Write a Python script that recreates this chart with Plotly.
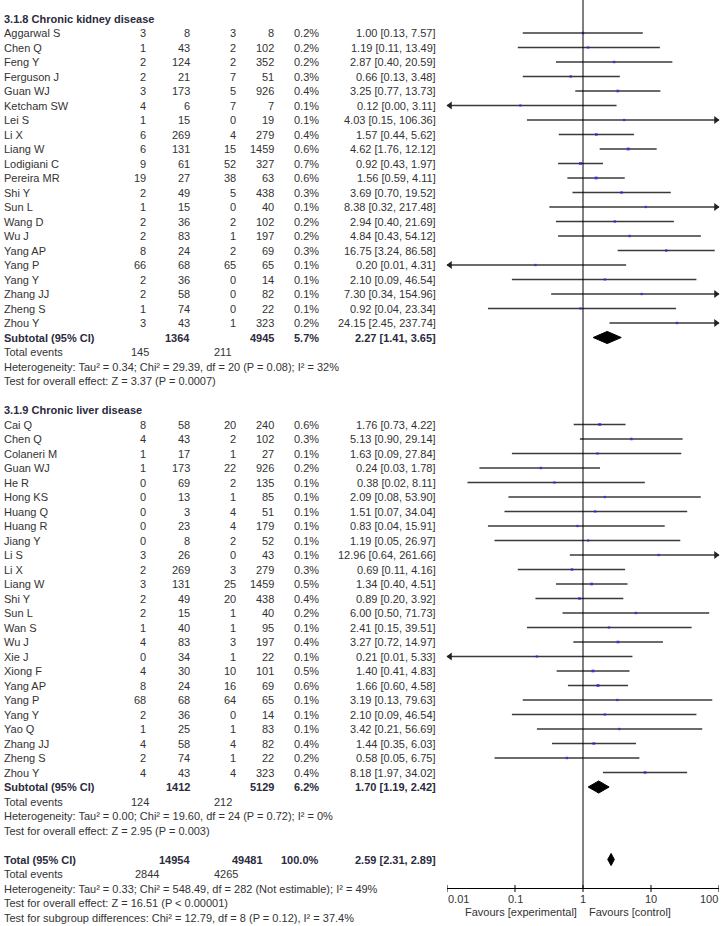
import math
import plotly.graph_objects as go

# ---------------- DATA ----------------
kid_title = "3.1.8 Chronic kidney disease"
kid_names = ["Aggarwal S", "Chen Q", "Feng Y", "Ferguson J", "Guan WJ", "Ketcham SW", "Lei S", "Li X",
             "Liang W", "Lodigiani C", "Pereira MR", "Shi Y", "Sun L", "Wang D", "Wu J", "Yang AP",
             "Yang P", "Yang Y", "Zhang JJ", "Zheng S", "Zhou Y"]
kid_exp_ev = [3, 1, 2, 2, 3, 4, 1, 6, 6, 9, 19, 2, 1, 2, 2, 8, 66, 2, 2, 1, 3]
kid_exp_n = [8, 43, 124, 21, 173, 6, 15, 269, 131, 61, 27, 49, 15, 36, 83, 24, 68, 36, 58, 74, 43]
kid_ctl_ev = [3, 2, 2, 7, 5, 7, 0, 4, 15, 52, 38, 5, 0, 2, 1, 2, 65, 0, 0, 0, 1]
kid_ctl_n = [8, 102, 352, 51, 926, 7, 19, 279, 1459, 327, 63, 438, 40, 102, 197, 69, 65, 14, 82, 22, 323]
kid_weight = [0.2, 0.2, 0.2, 0.3, 0.4, 0.1, 0.1, 0.4, 0.6, 0.7, 0.6, 0.3, 0.1, 0.2, 0.2, 0.3, 0.1, 0.1, 0.1, 0.1, 0.2]
kid_or = [1.00, 1.19, 2.87, 0.66, 3.25, 0.12, 4.03, 1.57, 4.62, 0.92, 1.56, 3.69, 8.38, 2.94, 4.84, 16.75,
          0.20, 2.10, 7.30, 0.92, 24.15]
kid_lo = [0.13, 0.11, 0.40, 0.13, 0.77, 0.00, 0.15, 0.44, 1.76, 0.43, 0.59, 0.70, 0.32, 0.40, 0.43, 3.24,
          0.01, 0.09, 0.34, 0.04, 2.45]
kid_hi = [7.57, 13.49, 20.59, 3.48, 13.73, 3.11, 106.36, 5.62, 12.12, 1.97, 4.11, 19.52, 217.48, 21.69,
          54.12, 86.58, 4.31, 46.54, 154.96, 23.34, 237.74]
kid_sub = {"exp_n": 1364, "ctl_n": 4945, "weight": "5.7%", "or": 2.27, "lo": 1.41, "hi": 3.65}
kid_events = ["145", "211"]
kid_het = "Heterogeneity: Tau² = 0.34; Chi² = 29.39, df = 20 (P = 0.08); I² = 32%"
kid_test = "Test for overall effect: Z = 3.37 (P = 0.0007)"

liv_title = "3.1.9 Chronic liver disease"
liv_names = ["Cai Q", "Chen Q", "Colaneri M", "Guan WJ", "He R", "Hong KS", "Huang Q", "Huang R", "Jiang Y",
             "Li S", "Li X", "Liang W", "Shi Y", "Sun L", "Wan S", "Wu J", "Xie J", "Xiong F", "Yang AP",
             "Yang P", "Yang Y", "Yao Q", "Zhang JJ", "Zheng S", "Zhou Y"]
liv_exp_ev = [8, 4, 1, 1, 0, 0, 0, 0, 0, 3, 2, 3, 2, 2, 1, 4, 0, 4, 8, 68, 2, 1, 4, 2, 4]
liv_exp_n = [58, 43, 17, 173, 69, 13, 3, 23, 8, 26, 269, 131, 49, 15, 40, 83, 34, 30, 24, 68, 36, 25, 58, 74, 43]
liv_ctl_ev = [20, 2, 1, 22, 2, 1, 4, 4, 2, 0, 3, 25, 20, 1, 1, 3, 1, 10, 16, 64, 0, 1, 4, 1, 4]
liv_ctl_n = [240, 102, 27, 926, 135, 85, 51, 179, 52, 43, 279, 1459, 438, 40, 95, 197, 22, 101, 69, 65, 14,
             83, 82, 22, 323]
liv_weight = [0.6, 0.3, 0.1, 0.2, 0.1, 0.1, 0.1, 0.1, 0.1, 0.1, 0.3, 0.5, 0.4, 0.2, 0.1, 0.4, 0.1, 0.5, 0.6,
              0.1, 0.1, 0.1, 0.4, 0.2, 0.4]
liv_or = [1.76, 5.13, 1.63, 0.24, 0.38, 2.09, 1.51, 0.83, 1.19, 12.96, 0.69, 1.34, 0.89, 6.00, 2.41, 3.27,
          0.21, 1.40, 1.66, 3.19, 2.10, 3.42, 1.44, 0.58, 8.18]
liv_lo = [0.73, 0.90, 0.09, 0.03, 0.02, 0.08, 0.07, 0.04, 0.05, 0.64, 0.11, 0.40, 0.20, 0.50, 0.15, 0.72,
          0.01, 0.41, 0.60, 0.13, 0.09, 0.21, 0.35, 0.05, 1.97]
liv_hi = [4.22, 29.14, 27.84, 1.78, 8.11, 53.90, 34.04, 15.91, 26.97, 261.66, 4.16, 4.51, 3.92, 71.73, 39.51,
          14.97, 5.33, 4.83, 4.58, 79.63, 46.54, 56.69, 6.03, 6.75, 34.02]
liv_sub = {"exp_n": 1412, "ctl_n": 5129, "weight": "6.2%", "or": 1.70, "lo": 1.19, "hi": 2.42}
liv_events = ["124", "212"]
liv_het = "Heterogeneity: Tau² = 0.00; Chi² = 19.60, df = 24 (P = 0.72); I² = 0%"
liv_test = "Test for overall effect: Z = 2.95 (P = 0.003)"

tot = {"exp_n": 14954, "ctl_n": 49481, "weight": "100.0%", "or": 2.59, "lo": 2.31, "hi": 2.89}
tot_events = ["2844", "4265"]
tot_het = "Heterogeneity: Tau² = 0.33; Chi² = 548.49, df = 282 (Not estimable); I² = 49%"
tot_test = "Test for overall effect: Z = 16.51 (P < 0.00001)"
tot_sub = "Test for subgroup differences: Chi² = 12.79, df = 8 (P = 0.12), I² = 37.4%"

tick_vals = [0.01, 0.1, 1, 10, 100]
tick_text = ["0.01", "0.1", "1", "10", "100"]
fav_left = "Favours [experimental]"
fav_right = "Favours [control]"

# ---------------- LAYOUT CONSTANTS ----------------
W, H = 721, 926
ROW0, ROWH = 18.5, 14.5
AXIS_PX = 888
XMIN, XMAX = 0.01, 100
PLOT_L, PLOT_R = 447, 719
FONT = "Liberation Sans, Arial, sans-serif"
FS = 11
TXT = "#333333"
BOLD = "#2b2b3d"
COLS = {"name": 3, "exp_ev": 147, "exp_n": 191, "ctl_ev": 237, "ctl_n": 275, "w": 320, "or": 437}

def py(p):
    return 1 - p / H

def px(p):
    return p / W

annotations = []

def txt(xpx, row, s, anchor="right", bold=False, color=None):
    annotations.append(dict(
        x=px(xpx), xref="paper", y=row, yref="y",
        text=("<b>%s</b>" % s) if bold else s,
        xanchor=anchor, yanchor="middle", showarrow=False, borderpad=0,
        font=dict(family=FONT, size=FS, color=color or (BOLD if bold else TXT))))

ci_x, ci_y = [], []
pt_x, pt_y, pt_s = [], [], []
arr_l_y, arr_r_y = [], []
diamonds = []

def fmt_or(o, l, h):
    return "%.2f [%.2f, %.2f]" % (o, l, h)

def add_group(start, title, names, eev, en, cev, cn, w, o, lo, hi, sub, events, het, test):
    r = start
    txt(COLS["name"], r, title, anchor="left", bold=True)
    r += 1
    for i in range(len(names)):
        txt(COLS["name"], r, names[i], anchor="left")
        txt(COLS["exp_ev"], r, str(eev[i]))
        txt(COLS["exp_n"], r, str(en[i]))
        txt(COLS["ctl_ev"], r, str(cev[i]))
        txt(COLS["ctl_n"], r, str(cn[i]))
        txt(COLS["w"], r, "%.1f%%" % w[i])
        txt(COLS["or"], r, fmt_or(o[i], lo[i], hi[i]))
        a = max(lo[i], XMIN)
        b = min(hi[i], XMAX)
        ci_x.extend([a, b, None])
        ci_y.extend([r, r, None])
        if lo[i] <= XMIN:
            arr_l_y.append(r)
        if hi[i] >= XMAX:
            arr_r_y.append(r)
        pt_x.append(o[i]); pt_y.append(r); pt_s.append(2.2 + 1.2 * w[i])
        r += 1
    txt(COLS["name"], r, "Subtotal (95% CI)", anchor="left", bold=True)
    txt(COLS["exp_n"], r, str(sub["exp_n"]), bold=True)
    txt(COLS["ctl_n"], r, str(sub["ctl_n"]), bold=True)
    txt(COLS["w"], r, sub["weight"], bold=True)
    txt(COLS["or"], r, fmt_or(sub["or"], sub["lo"], sub["hi"]), bold=True)
    diamonds.append((sub["or"], sub["lo"], sub["hi"], r))
    r += 1
    txt(COLS["name"], r, "Total events", anchor="left")
    txt(140, r, events[0], anchor="center")
    txt(223, r, events[1], anchor="center")
    r += 1
    txt(COLS["name"], r, het, anchor="left")
    r += 1
    txt(COLS["name"], r, test, anchor="left")
    return r + 2

r = add_group(0, kid_title, kid_names, kid_exp_ev, kid_exp_n, kid_ctl_ev, kid_ctl_n, kid_weight,
              kid_or, kid_lo, kid_hi, kid_sub, kid_events, kid_het, kid_test)
r = add_group(r, liv_title, liv_names, liv_exp_ev, liv_exp_n, liv_ctl_ev, liv_ctl_n, liv_weight,
              liv_or, liv_lo, liv_hi, liv_sub, liv_events, liv_het, liv_test)

# overall
txt(COLS["name"], r, "Total (95% CI)", anchor="left", bold=True)
txt(COLS["exp_n"], r, str(tot["exp_n"]), bold=True)
txt(264, r, str(tot["ctl_n"]), bold=True)
txt(COLS["w"], r, tot["weight"], bold=True)
txt(COLS["or"], r, fmt_or(tot["or"], tot["lo"], tot["hi"]), bold=True)
diamonds.append((tot["or"], tot["lo"], tot["hi"], r))
txt(COLS["name"], r + 1, "Total events", anchor="left")
txt(147, r + 1, tot_events[0], anchor="center")
txt(226, r + 1, tot_events[1], anchor="center")
txt(COLS["name"], r + 2, tot_het, anchor="left")
txt(COLS["name"], r + 3, tot_test, anchor="left")
txt(COLS["name"], r + 4, tot_sub, anchor="left")

fig = go.Figure()

fig.add_trace(go.Scatter(x=ci_x, y=ci_y, mode="lines", line=dict(color="#3a3a3a", width=1.4),
                         hoverinfo="skip", showlegend=False))
off = 3.0 / 68.0
fig.add_trace(go.Scatter(x=[10 ** (math.log10(XMIN) + off)] * len(arr_l_y), y=arr_l_y, mode="markers",
                         marker=dict(symbol="triangle-left", size=7, color="#222222"),
                         hoverinfo="skip", showlegend=False, cliponaxis=False))
fig.add_trace(go.Scatter(x=[10 ** (math.log10(XMAX) - off)] * len(arr_r_y), y=arr_r_y, mode="markers",
                         marker=dict(symbol="triangle-right", size=7, color="#222222"),
                         hoverinfo="skip", showlegend=False, cliponaxis=False))
fig.add_trace(go.Scatter(x=pt_x, y=pt_y, mode="markers",
                         marker=dict(symbol="square", size=pt_s, color="#2020ff", line=dict(width=0)),
                         hoverinfo="skip", showlegend=False))
for est, lo, hi, rr in diamonds:
    hh = 0.42
    fig.add_trace(go.Scatter(x=[lo, est, hi, est, lo], y=[rr, rr - hh, rr, rr + hh, rr], mode="lines",
                             fill="toself", fillcolor="black", line=dict(color="black", width=1),
                             hoverinfo="skip", showlegend=False))

shapes = [dict(type="line", xref="x", yref="paper", x0=1, x1=1, y0=py(AXIS_PX), y1=1,
               line=dict(color="black", width=1))]
for tv in tick_vals:
    shapes.append(dict(type="line", xref="x", yref="paper", x0=tv, x1=tv,
                       y0=py(AXIS_PX + 4), y1=py(AXIS_PX - 3),
                       line=dict(color="black", width=1)))
for tv, tt in zip(tick_vals, tick_text):
    anchor = "left" if tv == tick_vals[0] else ("right" if tv == tick_vals[-1] else "center")
    annotations.append(dict(x=math.log10(tv), xref="x", y=py(899), yref="paper", text=tt,
                            xanchor=anchor, yanchor="middle", showarrow=False, borderpad=0,
                            font=dict(family=FONT, size=FS, color=TXT)))
annotations.append(dict(x=0, xref="x", y=py(912), yref="paper", text=fav_left, xanchor="right",
                        xshift=-5, yanchor="middle", showarrow=False, borderpad=0,
                        font=dict(family=FONT, size=FS, color=TXT)))
annotations.append(dict(x=0, xref="x", y=py(912), yref="paper", text=fav_right, xanchor="left",
                        xshift=5, yanchor="middle", showarrow=False, borderpad=0,
                        font=dict(family=FONT, size=FS, color=TXT)))

fig.update_layout(
    width=W, height=H, margin=dict(l=0, r=0, t=0, b=0),
    paper_bgcolor="white", plot_bgcolor="white",
    xaxis=dict(type="log", range=[math.log10(XMIN), math.log10(XMAX)],
               domain=[px(PLOT_L), px(PLOT_R)], anchor="free", position=py(AXIS_PX),
               showline=True, linecolor="black", linewidth=1, showgrid=False, zeroline=False,
               showticklabels=False, ticks=""),
    yaxis=dict(range=[(H - ROW0) / ROWH, -ROW0 / ROWH], domain=[0, 1], visible=False,
               showgrid=False, zeroline=False),
    shapes=shapes, annotations=annotations, showlegend=False,
)

# remove the browser's default 8px page margin so the figure fills the window exactly
fig.write_html("out.html", config={"displayModeBar": False, "staticPlot": True},
               post_script="document.body.style.margin='0';document.body.style.padding='0';"
                           "document.documentElement.style.overflow='hidden';")
